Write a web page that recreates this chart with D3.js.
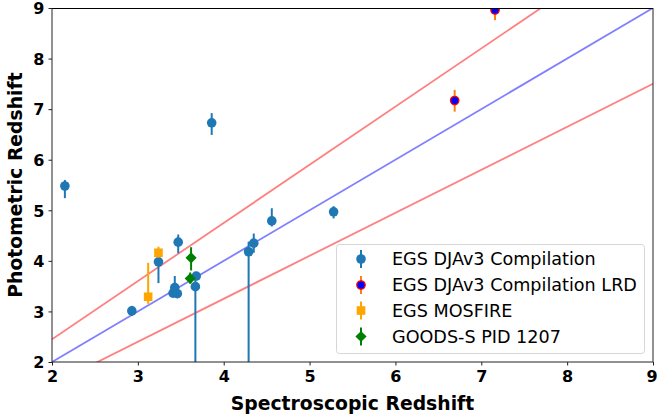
<!DOCTYPE html>
<html>
<head>
<meta charset="utf-8">
<script src="https://cdn.jsdelivr.net/npm/d3@7"></script>
<style>
  html, body { margin: 0; padding: 0; background: #fff; }
  svg { display: block; font-family: "DejaVu Sans", sans-serif; }
</style>
</head>
<body>
<svg id="chart" width="657" height="418"></svg>
<script>
// EGS DJAv3 compilation
const egsX     = [2.15, 2.93, 3.24, 3.47, 3.41, 3.43, 3.46, 3.68, 3.67, 3.86, 4.29, 4.35, 4.56, 5.28];
const egsY     = [5.48, 3.01, 3.98, 4.37, 3.36, 3.47, 3.35, 3.70, 3.49, 6.73, 4.18, 4.35, 4.79, 4.97];
const egsErrLo = [0.24, 0.10, 0.42, 0.22, 0.08, 0.10, 0.08, 0.08, 2.00, 0.24, 2.50, 0.19, 0.11, 0.13];
const egsErrHi = [0.12, 0.10, 0.10, 0.15, 0.10, 0.23, 0.10, 0.08, 0.25, 0.19, 0.20, 0.19, 0.25, 0.11];

// EGS DJAv3 compilation, little red dots
const lrdX     = [6.69, 7.16];
const lrdY     = [7.17, 8.96];
const lrdErrLo = [0.22, 0.20];
const lrdErrHi = [0.21, 0.20];

// EGS MOSFIRE
const mosX     = [3.12, 3.24];
const mosY     = [3.29, 4.16];
const mosErrLo = [0.14, 0.10];
const mosErrHi = [0.67, 0.12];

// GOODS-S PID 1207
const gsX      = [3.62, 3.61];
const gsY      = [4.06, 3.65];
const gsErrLo  = [0.25, 0.10];
const gsErrHi  = [0.21, 0.12];

const xTicks = [2, 3, 4, 5, 6, 7, 8, 9];
const yTicks = [2, 3, 4, 5, 6, 7, 8, 9];
const legendLabels = ["EGS DJAv3 Compilation", "EGS DJAv3 Compilation LRD", "EGS MOSFIRE", "GOODS-S PID 1207"];

// one-to-one relation and the ±0.15(1+z) bounds
const relSlope = [1, 1.15, 0.85];
const relOffset = [0, 0.15, -0.15];

const svg = d3.select("#chart");
const m = { left: 52, right: 653, top: 8, bottom: 362 };
const x = d3.scaleLinear().domain([2, 9]).range([m.left, m.right]);
const y = d3.scaleLinear().domain([2, 9]).range([m.bottom, m.top]);

svg.append("defs").append("clipPath").attr("id", "plotclip")
  .append("rect").attr("x", m.left).attr("y", m.top)
  .attr("width", m.right - m.left).attr("height", m.bottom - m.top);

const plot = svg.append("g").attr("clip-path", "url(#plotclip)");

// relation lines
const relColors = ["#8080ff", "#ff8080", "#ff8080"];
relSlope.forEach((s, i) => {
  plot.append("line")
    .attr("x1", x(2)).attr("y1", y(s * 2 + relOffset[i]))
    .attr("x2", x(9)).attr("y2", y(s * 9 + relOffset[i]))
    .attr("stroke", relColors[i]).attr("stroke-width", 1.8);
});

function errbars(g, xs, ys, lo, hi, color) {
  g.selectAll(null).data(xs).enter().append("line")
    .attr("x1", d => x(d)).attr("x2", d => x(d))
    .attr("y1", (d, i) => y(ys[i] - lo[i]))
    .attr("y2", (d, i) => y(ys[i] + hi[i]))
    .attr("stroke", color).attr("stroke-width", 2);
}

const R = 4.8;

// EGS DJAv3
errbars(plot, egsX, egsY, egsErrLo, egsErrHi, "#1f77b4");
plot.selectAll(null).data(egsX).enter().append("circle")
  .attr("cx", d => x(d)).attr("cy", (d, i) => y(egsY[i]))
  .attr("r", R).attr("fill", "#1f77b4");

// LRD
errbars(plot, lrdX, lrdY, lrdErrLo, lrdErrHi, "#ff7f0e");
plot.selectAll(null).data(lrdX).enter().append("circle")
  .attr("cx", d => x(d)).attr("cy", (d, i) => y(lrdY[i]))
  .attr("r", R - 0.6).attr("fill", "#0000ff").attr("stroke", "#ff0000").attr("stroke-width", 1.3);

// MOSFIRE
errbars(plot, mosX, mosY, mosErrLo, mosErrHi, "#ffa500");
plot.selectAll(null).data(mosX).enter().append("rect")
  .attr("x", d => x(d) - 4.3).attr("y", (d, i) => y(mosY[i]) - 4.3)
  .attr("width", 8.6).attr("height", 8.6).attr("fill", "#ffa500");

// GOODS-S
errbars(plot, gsX, gsY, gsErrLo, gsErrHi, "#008000");
const diamond = d3.symbol().type(d3.symbolSquare).size(62);
plot.selectAll(null).data(gsX).enter().append("path")
  .attr("d", diamond)
  .attr("transform", (d, i) => `translate(${x(d)},${y(gsY[i])}) rotate(45)`)
  .attr("fill", "#008000");

// frame
svg.append("line").attr("x1", m.left).attr("x2", m.right).attr("y1", m.top + 0.5).attr("y2", m.top + 0.5)
  .attr("stroke", "#000").attr("stroke-width", 1);
svg.append("line").attr("x1", m.left).attr("x2", m.left).attr("y1", m.top).attr("y2", m.bottom)
  .attr("stroke", "#222").attr("stroke-width", 1);
svg.append("line").attr("x1", m.right).attr("x2", m.right).attr("y1", m.top).attr("y2", m.bottom)
  .attr("stroke", "#222").attr("stroke-width", 1);
svg.append("line").attr("x1", m.left).attr("x2", m.right).attr("y1", m.bottom).attr("y2", m.bottom)
  .attr("stroke", "#222").attr("stroke-width", 1);

// axes
const xAxis = svg.append("g").attr("transform", `translate(0,${m.bottom})`)
  .call(d3.axisBottom(x).tickValues(xTicks).tickFormat(d3.format("d")).tickSize(3.5).tickPadding(5));
const yAxis = svg.append("g").attr("transform", `translate(${m.left},0)`)
  .call(d3.axisLeft(y).tickValues(yTicks).tickFormat(d3.format("d")).tickSize(3.5).tickPadding(4));
[xAxis, yAxis].forEach(a => {
  a.select(".domain").remove();
  a.selectAll("line").attr("stroke", "#222");
  a.selectAll("text").attr("font-family", "DejaVu Sans").attr("font-weight", "bold")
    .attr("font-size", 16).attr("fill", "#000");
});
yAxis.selectAll("text").attr("dy", "0.36em");
// keep the last label inside the page
xAxis.selectAll(".tick text").filter(d => d === 9).attr("dx", -1.5);

svg.append("text").attr("x", (m.left + m.right) / 2).attr("y", 410)
  .attr("text-anchor", "middle").attr("font-weight", "bold").attr("font-size", 18.8)
  .text("Spectroscopic Redshift");
svg.append("text").attr("transform", `translate(22,${(m.top + m.bottom) / 2}) rotate(-90)`)
  .attr("text-anchor", "middle").attr("font-weight", "bold").attr("font-size", 18.8)
  .text("Photometric Redshift");

// legend
const lg = svg.append("g");
lg.append("rect").attr("x", 336.5).attr("y", 244.5).attr("width", 308).attr("height", 109)
  .attr("rx", 3).attr("fill", "#fff").attr("fill-opacity", 0.8).attr("stroke", "#d6d6d6");
const ly = [259, 285, 310.5, 336.5];
const lc = ["#1f77b4", "#ff7f0e", "#ffa500", "#008000"];
legendLabels.forEach((lab, i) => {
  const cx = 361, cy = ly[i];
  lg.append("line").attr("x1", cx).attr("x2", cx).attr("y1", cy - 9).attr("y2", cy + 9)
    .attr("stroke", lc[i]).attr("stroke-width", 2);
  if (i === 0) lg.append("circle").attr("cx", cx).attr("cy", cy).attr("r", R).attr("fill", "#1f77b4");
  if (i === 1) lg.append("circle").attr("cx", cx).attr("cy", cy).attr("r", R - 0.6)
    .attr("fill", "#0000ff").attr("stroke", "#ff0000").attr("stroke-width", 1.3);
  if (i === 2) lg.append("rect").attr("x", cx - 4.3).attr("y", cy - 4.3).attr("width", 8.6).attr("height", 8.6).attr("fill", "#ffa500");
  if (i === 3) lg.append("path").attr("d", diamond).attr("transform", `translate(${cx},${cy}) rotate(45)`).attr("fill", "#008000");
  lg.append("text").attr("x", 392).attr("y", cy).attr("dy", "0.36em")
    .attr("font-size", 17.6).attr("fill", "#000").text(lab);
});
</script>
</body>
</html>
